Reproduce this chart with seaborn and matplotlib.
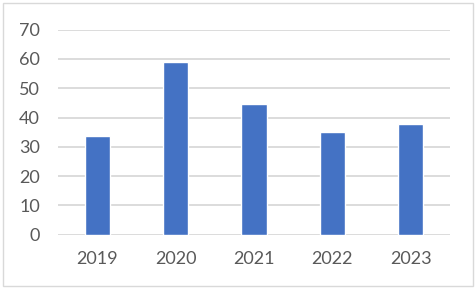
import matplotlib
matplotlib.use("Agg")
import matplotlib.pyplot as plt
import seaborn as sns
import pandas as pd
from matplotlib.patches import Rectangle

years = ["2019", "2020", "2021", "2022", "2023"]
values = [33.7, 58.9, 44.6, 35.0, 37.8]
yticks = [0, 10, 20, 30, 40, 50, 60, 70]

df = pd.DataFrame({"year": years, "value": values})

sns.set_theme(style="white")
plt.rcParams['font.family'] = ['Lato', 'DejaVu Sans']

fig = plt.figure(figsize=(4.75, 2.89), dpi=100)
ax = fig.add_axes([58/475, 1-234.7/289, (450-58)/475, (234.7-29.7)/289])

sns.barplot(data=df, x="year", y="value", color="#4472C4", width=0.32,
            saturation=1, ax=ax, zorder=3)

ax.set_ylim(0, 70)
ax.set_xlim(-0.5, 4.5)
ax.set_yticks(yticks)
ax.set_yticklabels([str(t) for t in yticks])
ax.grid(axis="y", color="#D9D9D9", linewidth=1.3, zorder=0)
ax.grid(axis="x", visible=False)
for s in ax.spines.values():
    s.set_visible(False)
ax.set_xlabel("")
ax.set_ylabel("")
ax.tick_params(axis="both", length=0, labelsize=13, colors="#595959")
ax.tick_params(axis="y", pad=13)
ax.tick_params(axis="x", pad=12)

fig.patches.append(Rectangle((3/475, 3/289), 470/475, 283/289, transform=fig.transFigure,
                             fill=False, edgecolor="#D9D9D9", linewidth=1.0))

fig.savefig("out.png", dpi=100, facecolor="white")
